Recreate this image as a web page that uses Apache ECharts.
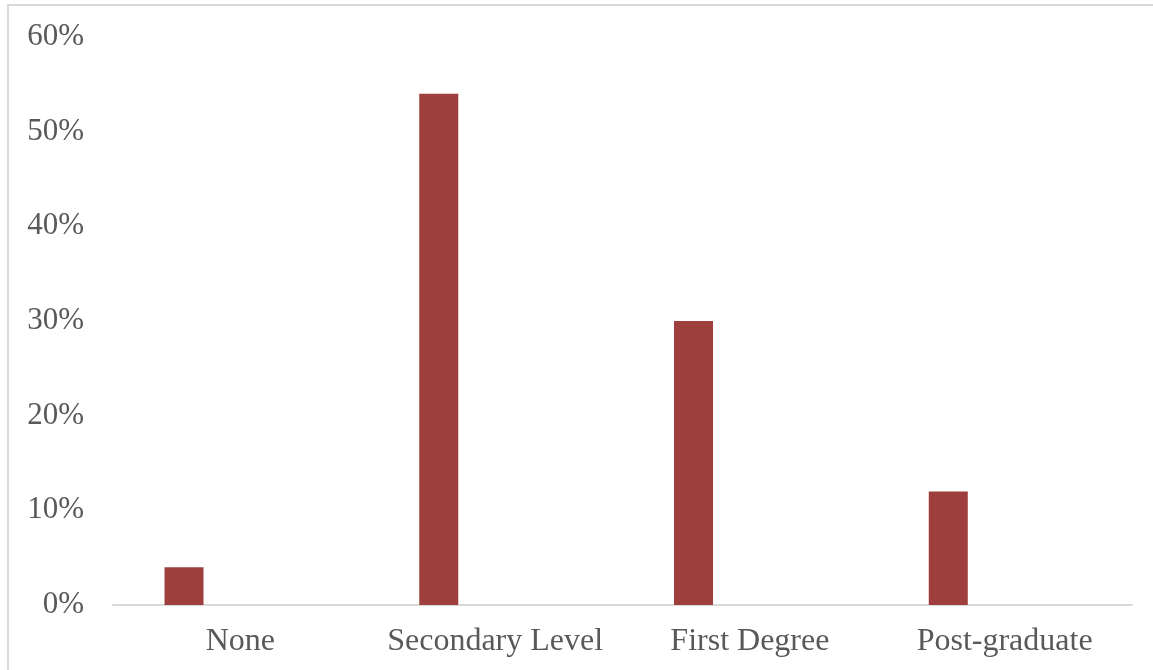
<!DOCTYPE html>
<html>
<head>
<meta charset="utf-8">
<script src="https://cdn.jsdelivr.net/npm/echarts@6/dist/echarts.min.js"></script>
<style>
html,body{margin:0;padding:0;background:#fff;}
#chart{width:1153px;height:670px;}
</style>
</head>
<body>
<div id="chart"></div>
<script>
const categories = ["None", "Secondary Level", "First Degree", "Post-graduate"];
const values = [4, 54, 30, 12];
const emptySeries = [null, null, null, null];
const yTicks = { min: 0, max: 60, interval: 10 };

const chart = echarts.init(document.getElementById('chart'), null, { renderer: 'canvas' });
const font = '"Liberation Serif", "Times New Roman", serif';
chart.setOption({
  animation: false,
  backgroundColor: '#fff',
  graphic: [{
    type: 'rect',
    shape: { x: 8, y: 5, width: 1300, height: 800 },
    style: { fill: 'none', stroke: '#d9d9d9', lineWidth: 2 },
    silent: true
  }],
  grid: { left: 113, right: 21, top: 37, bottom: 65, containLabel: false },
  xAxis: {
    type: 'category',
    data: categories,
    axisLine: { show: true, lineStyle: { color: '#d9d9d9', width: 2 } },
    axisTick: { show: false },
    axisLabel: { color: '#595959', fontFamily: font, fontSize: 32, margin: 21, interval: 0 },
    splitLine: { show: false }
  },
  yAxis: {
    type: 'value',
    min: yTicks.min, max: yTicks.max, interval: yTicks.interval,
    axisLine: { show: false },
    axisTick: { show: false },
    splitLine: { show: false },
    axisLabel: { color: '#595959', fontFamily: font, fontSize: 31, margin: 29, formatter: '{value}%' }
  },
  series: [
    { type: 'bar', data: values, barWidth: 39, barGap: '189%', itemStyle: { color: '#9e3f3d' } },
    { type: 'bar', data: emptySeries, barWidth: 39, itemStyle: { color: '#9e3f3d' } }
  ]
});
</script>
</body>
</html>
